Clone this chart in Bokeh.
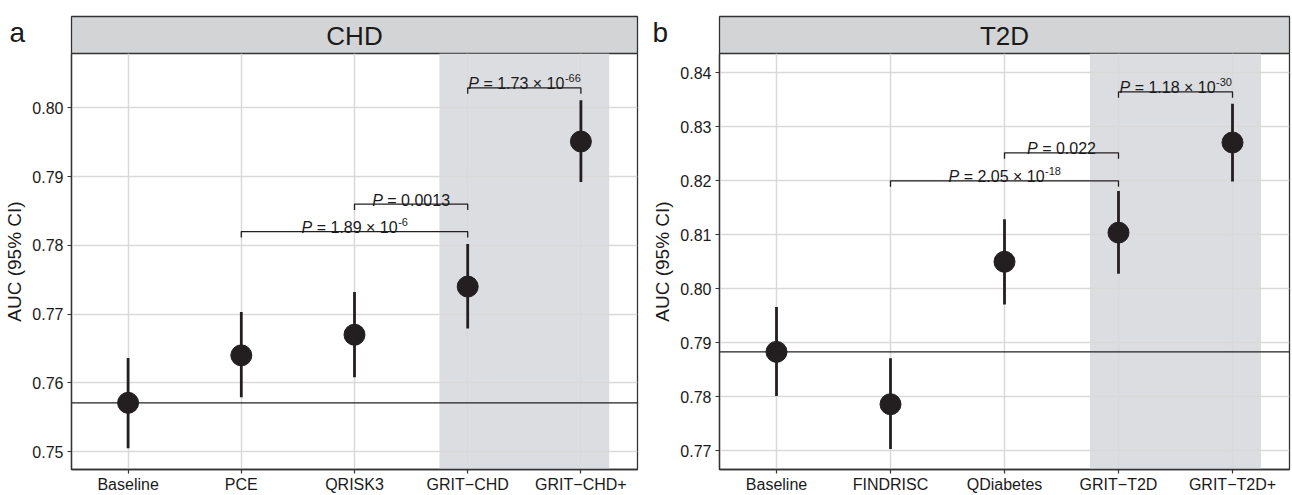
from bokeh.plotting import figure
from bokeh.models import Range1d, FixedTicker, PrintfTickFormatter, Span
from bokeh.layouts import row, column
from bokeh.embed import file_html
from bokeh.resources import INLINE
from bokeh.core.properties import value

# ---------------- data ----------------
chd_models = ["Baseline", "PCE", "QRISK3", "GRIT\u2212CHD", "GRIT\u2212CHD+"]
chd_auc = [0.7571, 0.7640, 0.7670, 0.7740, 0.7951]
chd_lo = [0.7505, 0.7579, 0.7608, 0.7679, 0.7892]
chd_hi = [0.7636, 0.7703, 0.7732, 0.7802, 0.8011]
chd_ticks = [0.75, 0.76, 0.77, 0.78, 0.79, 0.80]
chd_ylim = (0.7474, 0.8079)
chd_cmp_from = ["PCE", "QRISK3", "GRIT\u2212CHD"]
chd_cmp_to = ["GRIT\u2212CHD", "GRIT\u2212CHD", "GRIT\u2212CHD+"]
chd_cmp_y = [0.7820, 0.7860, 0.8029]
chd_cmp_p = ["1.89", "0.0013", "1.73"]
chd_cmp_exp = ["-6", "", "-66"]
chd_highlight = ["GRIT\u2212CHD", "GRIT\u2212CHD+"]

t2d_models = ["Baseline", "FINDRISC", "QDiabetes", "GRIT\u2212T2D", "GRIT\u2212T2D+"]
t2d_auc = [0.7883, 0.7786, 0.8050, 0.8104, 0.8271]
t2d_lo = [0.7801, 0.7703, 0.7971, 0.8028, 0.8199]
t2d_hi = [0.7966, 0.7871, 0.8129, 0.8181, 0.8343]
t2d_ticks = [0.77, 0.78, 0.79, 0.80, 0.81, 0.82, 0.83, 0.84]
t2d_ylim = (0.7665, 0.8436)
t2d_cmp_from = ["FINDRISC", "QDiabetes", "GRIT\u2212T2D"]
t2d_cmp_to = ["GRIT\u2212T2D", "GRIT\u2212T2D", "GRIT\u2212T2D+"]
t2d_cmp_y = [0.8200, 0.8252, 0.8365]
t2d_cmp_p = ["2.05", "0.022", "1.18"]
t2d_cmp_exp = ["-18", "", "-30"]
t2d_highlight = ["GRIT\u2212T2D", "GRIT\u2212T2D+"]

# ---------------- style ----------------
FONT = "Liberation Sans"
DARK = "#231F20"
AXC = "#333333"
GRID = "#D9D9D9"
STRIP_FILL = "#D3D4D6"
SHADE = "#DCDDE0"
FS = 16     # annotation font px
SS = 11     # superscript px
H = 495
HEAD = 53          # header (letter + strip) height
STRIP_TOP = 16
MAIN_H = H - HEAD
BOTTOM = 24
PANEL = MAIN_H - BOTTOM
NB = "\u00a0"

CW = {"P": 0.667, NB: 0.278, " ": 0.278, "=": 0.584, ".": 0.278,
      "\u00d7": 0.584, "-": 0.333}


def tw(s, size):
    return sum(CW.get(c, 0.556) for c in s) * size


def header(title, letter, width, left, right):
    h = figure(width=width, height=HEAD, x_range=Range1d(0, width),
               y_range=Range1d(HEAD, 0), output_backend="svg",
               toolbar_location=None, min_border=0,
               x_axis_location=None, y_axis_location=None)
    h.outline_line_color = None
    h.grid.visible = False
    h.background_fill_color = "white"
    h.border_fill_color = "white"
    h.quad(left=[left], right=[width - right], top=[STRIP_TOP], bottom=[HEAD],
           fill_color=STRIP_FILL, line_color=AXC, line_width=1.3)
    h.text(x=[(left + width - right) / 2], y=[(STRIP_TOP + HEAD) / 2 + 1],
           text=[title], text_font=value(FONT), text_font_size="26px",
           text_color="#1A1A1A", text_align="center", text_baseline="middle")
    h.text(x=[9], y=[32], text=[letter], text_font=value(FONT),
           text_font_size="28px", text_color="#1A1A1A", text_align="left",
           text_baseline="alphabetic")
    return h


def panel(models, auc, lo, hi, ticks, ylim, cfrom, cto, cy, cp, cexp, hl,
          width, left, right):
    ppu = PANEL / (ylim[1] - ylim[0])
    xs = list(range(1, len(models) + 1))
    idx = {m: i + 1 for i, m in enumerate(models)}
    p = figure(width=width, height=MAIN_H, x_range=Range1d(0.5, len(models) + 0.5),
               y_range=Range1d(ylim[0], ylim[1]), output_backend="svg",
               toolbar_location=None, min_border_left=left, min_border_right=right,
               min_border_top=0, min_border_bottom=BOTTOM)
    p.outline_line_color = AXC
    p.outline_line_width = 1.3
    p.background_fill_color = "white"
    p.border_fill_color = "white"

    # highlight band
    p.quad(left=[idx[hl[0]] - 0.25], right=[idx[hl[-1]] + 0.25],
           bottom=[ylim[0]], top=[ylim[1]], fill_color=SHADE, line_color=None,
           level="image")

    # baseline reference line
    p.add_layout(Span(location=auc[0], dimension="width", line_color=DARK,
                      line_width=1.3))

    # error bars and points
    p.segment(x0=xs, y0=lo, x1=xs, y1=hi, line_color=DARK, line_width=2.8)
    p.scatter(x=xs, y=auc, size=21, fill_color=DARK, line_color=DARK)

    # comparison brackets
    tick = 6 / ppu
    for f, t, y, pv, ex in zip(cfrom, cto, cy, cp, cexp):
        x1, x2 = idx[f], idx[t]
        p.multi_line(xs=[[x1, x1, x2, x2]], ys=[[y - tick, y, y, y - tick]],
                     line_color=DARK, line_width=1.3)
        main = NB + "=" + NB + pv + ((NB + "\u00d7" + NB + "10") if ex else "")
        wP = tw("P", FS)
        wm = tw(main, FS)
        ws = tw(ex, SS) if ex else 0
        x0 = -(wP + wm + ws) / 2
        xm = (x1 + x2) / 2
        common = dict(text_font=value(FONT), text_color="#1A1A1A",
                      text_baseline="alphabetic", text_align="left")
        p.text(x=[xm], y=[y], text=["P"], x_offset=x0, y_offset=-4,
               text_font_size=f"{FS}px", text_font_style="italic", **common)
        p.text(x=[xm], y=[y], text=[main], x_offset=x0 + wP, y_offset=-4,
               text_font_size=f"{FS}px", **common)
        if ex:
            p.text(x=[xm], y=[y], text=[ex], x_offset=x0 + wP + wm + 0.5,
                   y_offset=-10, text_font_size=f"{SS}px", **common)

    # axes
    p.xaxis.ticker = FixedTicker(ticks=xs)
    p.xaxis.major_label_overrides = {i: m for m, i in idx.items()}
    p.yaxis.ticker = FixedTicker(ticks=ticks)
    p.yaxis.formatter = PrintfTickFormatter(format="%.2f")
    for ax in (p.xaxis[0], p.yaxis[0]):
        ax.axis_line_color = AXC
        ax.axis_line_width = 1.3
        ax.major_tick_line_color = AXC
        ax.major_tick_line_width = 1.2
        ax.major_tick_out = 4
        ax.major_tick_in = 0
        ax.minor_tick_line_color = None
        ax.major_label_text_font = FONT
        ax.major_label_text_font_size = "16px"
        ax.major_label_text_color = "#1A1A1A"
    p.xaxis.major_label_standoff = 2
    p.yaxis.major_label_standoff = 4
    p.yaxis.axis_label = "AUC (95% CI)"
    p.yaxis.axis_label_text_font = FONT
    p.yaxis.axis_label_text_font_size = "19px"
    p.yaxis.axis_label_text_font_style = "normal"
    p.yaxis.axis_label_text_color = "#1A1A1A"
    p.yaxis.axis_label_standoff = 4
    p.xgrid.grid_line_color = GRID
    p.ygrid.grid_line_color = GRID
    p.xgrid.grid_line_width = 1.5
    p.ygrid.grid_line_width = 1.5
    return p


pa = panel(chd_models, chd_auc, chd_lo, chd_hi, chd_ticks, chd_ylim,
           chd_cmp_from, chd_cmp_to, chd_cmp_y, chd_cmp_p, chd_cmp_exp,
           chd_highlight, 643, 71, 6)
pb = panel(t2d_models, t2d_auc, t2d_lo, t2d_hi, t2d_ticks, t2d_ylim,
           t2d_cmp_from, t2d_cmp_to, t2d_cmp_y, t2d_cmp_p, t2d_cmp_exp,
           t2d_highlight, 649, 76, 3)
ha = header("CHD", "a", 643, 71, 6)
hb = header("T2D", "b", 649, 76, 3)

layout = column(row(ha, hb), row(pa, pb))
open("out.html", "w").write(file_html(layout, INLINE))
